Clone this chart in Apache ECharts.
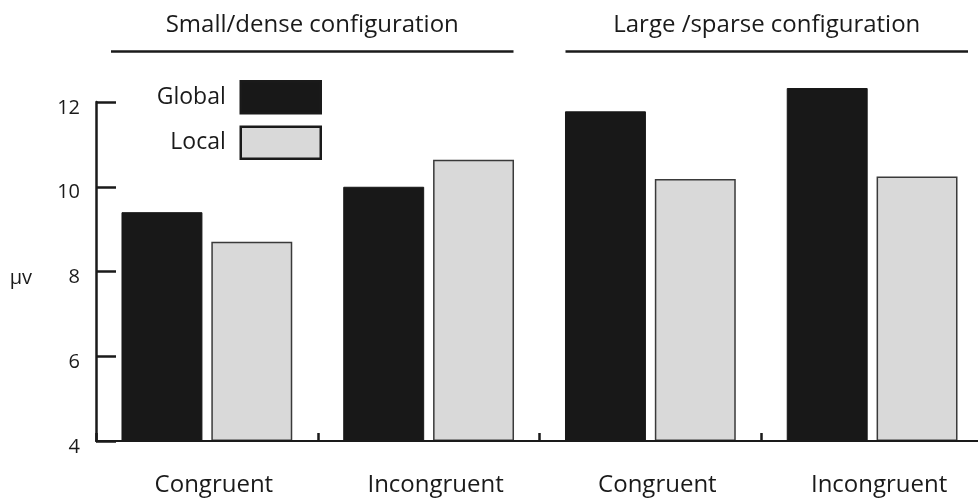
<!DOCTYPE html>
<html><head><meta charset="utf-8">
<script src="https://cdn.jsdelivr.net/npm/echarts@6/dist/echarts.min.js"></script>
<style>html,body{margin:0;padding:0;background:#fff}#c{width:978px;height:498px}</style>
</head><body><div id="c"></div>
<script>
const categories = ['Congruent', 'Incongruent', 'Congruent', 'Incongruent'];
const globalValues = [9.4, 10.0, 11.78, 12.33];
const localValues = [8.7, 10.64, 10.18, 10.24];
const seriesNames = ['Global', 'Local'];
const groupTitles = ['Small/dense configuration', 'Large /sparse configuration'];
const yMin = 4, yMax = 12, yInterval = 2;
const yName = 'μv';

const FONT = '"Open Sans", sans-serif';
const INK = '#1a1a1a';

const chart = echarts.init(document.getElementById('c'), null, {renderer: 'canvas'});
const option = {
  animation: false,
  backgroundColor: '#ffffff',
  grid: {left: 96, top: 102, height: 339, width: 887, containLabel: false, outerBoundsMode: 'none'},
  legend: {
    data: seriesNames,
    orient: 'vertical',
    right: 656,
    top: 80,
    itemWidth: 80,
    itemHeight: 32,
    itemGap: 11,
    align: 'right',
    padding: 0,
    selectedMode: false,
    icon: 'rect',
    textStyle: {fontFamily: FONT, fontSize: 23, color: INK, padding: [0, 10, 0, 0]},
    itemStyle: {borderWidth: 2.5, borderColor: INK}
  },
  xAxis: {
    type: 'category',
    data: categories,
    z: 5,
    axisLine: {lineStyle: {color: INK, width: 2}},
    axisTick: {show: true, inside: true, length: 8, alignWithLabel: false, interval: 0, lineStyle: {color: INK, width: 2.5}},
    axisLabel: {fontFamily: FONT, fontSize: 24, color: INK, margin: 32, interval: 0, padding: [0, 0, 0, 14]},
    splitLine: {show: false}
  },
  yAxis: {
    type: 'value',
    min: yMin, max: yMax, interval: yInterval,
    startValue: yMin,
    name: yName,
    nameLocation: 'middle',
    nameRotate: 0,
    nameGap: 64,
    nameTextStyle: {fontFamily: FONT, fontSize: 20, color: INK, verticalAlign: 'top', lineHeight: 14},
    axisLine: {show: true, lineStyle: {color: INK, width: 2.5}},
    axisTick: {show: true, inside: true, length: 20, lineStyle: {color: INK, width: 2.5}},
    axisLabel: {fontFamily: FONT, fontSize: 20, color: INK, margin: 16, verticalAlign: 'top', lineHeight: 12},
    splitLine: {show: false}
  },
  series: [
    {
      name: seriesNames[0], type: 'bar', data: globalValues,
      barWidth: '36.5%', barGap: '11%', clip: false,
      itemStyle: {color: '#181818', borderColor: '#181818', borderWidth: 1}
    },
    {
      name: seriesNames[1], type: 'bar', data: localValues,
      barWidth: '36.5%', barGap: '11%', clip: false,
      itemStyle: {color: '#d9d9d9', borderColor: '#3a3a3a', borderWidth: 1.5}
    }
  ]
};
chart.setOption(option);

// group titles and underlines, positioned from the category scale
const c0 = chart.convertToPixel({xAxisIndex: 0}, 0);
const c1 = chart.convertToPixel({xAxisIndex: 0}, 1);
const step = c1 - c0;
const left = c0 - step / 2;
const right = left + step * categories.length;
const mid = (left + right) / 2;
const spans = [[left + 15, mid - 26], [mid + 26, right - 15]];
const graphics = [];
spans.forEach((s, i) => {
  graphics.push({
    type: 'line', shape: {x1: s[0], y1: 51.5, x2: s[1], y2: 51.5},
    style: {stroke: INK, lineWidth: 2.5}, silent: true
  });
  graphics.push({
    type: 'text', x: (s[0] + s[1]) / 2, y: 25,
    style: {text: groupTitles[i], font: '24px ' + FONT, fill: INK, align: 'center', verticalAlign: 'middle'},
    silent: true
  });
});
chart.setOption({graphic: graphics});
</script>
</body></html>
